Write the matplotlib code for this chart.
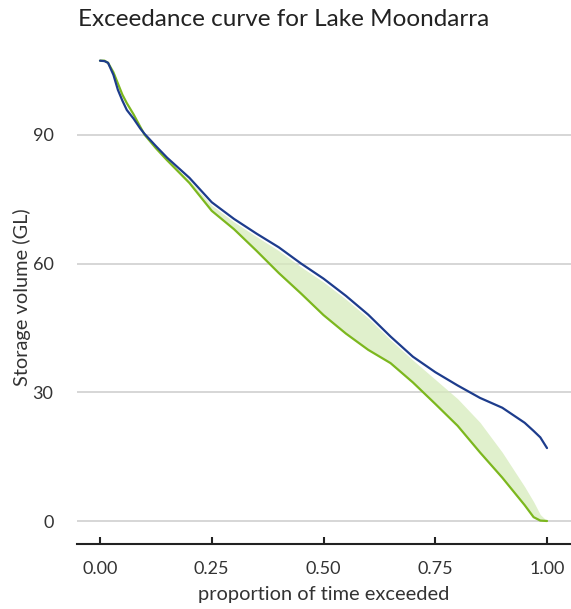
import matplotlib
matplotlib.use("Agg")
import matplotlib.pyplot as plt

# Proportion of time exceeded
proportion = [0.0, 0.01, 0.018, 0.03, 0.04, 0.05, 0.06, 0.075, 0.09, 0.10, 0.125,
              0.15, 0.20, 0.25, 0.30, 0.35, 0.40, 0.45, 0.50, 0.55, 0.60, 0.65,
              0.70, 0.75, 0.80, 0.85, 0.90, 0.95, 0.97, 0.985, 1.0]

# Historical storage volume (GL)
storage_historical = [107.3, 107.2, 106.8, 104.0, 100.5, 98.0, 95.8, 93.8, 91.5, 90.2, 87.4,
                      84.7, 80.0, 74.3, 70.4, 67.0, 63.8, 60.0, 56.5, 52.5, 48.1, 43.0,
                      38.3, 34.7, 31.6, 28.7, 26.4, 22.9, 21.0, 19.5, 17.0]

# Projected storage volume (GL)
storage_projected = [107.3, 107.3, 106.8, 104.6, 102.0, 99.4, 97.4, 94.8, 91.9, 90.0, 86.9,
                     84.1, 78.8, 72.3, 68.0, 63.0, 57.8, 53.0, 48.0, 43.7, 39.9, 36.8,
                     32.3, 27.3, 22.2, 16.0, 10.1, 3.7, 0.9, 0.1, 0.0]

# Upper edge of the projected range (GL)
storage_range_upper = [107.3, 107.3, 106.8, 104.6, 102.0, 99.4, 97.4, 94.8, 91.9, 90.0, 87.1,
                       84.4, 79.4, 73.6, 69.7, 66.3, 63.0, 59.2, 55.7, 51.7, 47.3, 42.2,
                       37.5, 33.0, 28.5, 23.0, 16.0, 8.0, 4.5, 1.5, 0.0]

y_ticks = [0, 30, 60, 90]
x_ticks = [0.0, 0.25, 0.50, 0.75, 1.0]
x_tick_labels = ["0.00", "0.25", "0.50", "0.75", "1.00"]

plt.rcParams["font.family"] = ["Lato", "DejaVu Sans"]

W, H = 571, 609
fig = plt.figure(figsize=(W / 100, H / 100), dpi=100)

# axes box in pixel terms
left_px, right_px, top_px, bottom_px = 77, 571, 50, 544
ax = fig.add_axes([left_px / W, 1 - bottom_px / H,
                   (right_px - left_px) / W, (bottom_px - top_px) / H])

# data-to-pixel mapping: x=0 -> 100px, x=1 -> 547px ; y=0 -> 521px, 4.29px/GL
x0_px, x_scale = 100, 447
y0_px, y_scale = 521, 4.29
ax.set_xlim((left_px - x0_px) / x_scale, (right_px - x0_px) / x_scale)
ax.set_ylim((y0_px - bottom_px) / y_scale, (y0_px - top_px) / y_scale)

green = "#7cb71e"
blue = "#1d3c8c"

ax.fill_between(proportion, storage_projected, storage_range_upper,
                color="#d6ebbb", alpha=0.75, linewidth=0, zorder=2)
ax.plot(proportion, storage_projected, color=green, lw=1.6, zorder=3,
        solid_capstyle="round", solid_joinstyle="round")
ax.plot(proportion, storage_historical, color=blue, lw=1.6, zorder=4,
        solid_capstyle="round", solid_joinstyle="round")

for v in y_ticks:
    ax.axhline(v, color="#d3d3d3", lw=1.3, zorder=1)

for s in ["top", "right", "left"]:
    ax.spines[s].set_visible(False)
ax.spines["bottom"].set_linewidth(1.5)
ax.spines["bottom"].set_color("#222222")

ax.set_yticks(y_ticks)
ax.set_xticks(x_ticks)
ax.set_xticklabels(x_tick_labels)
ax.tick_params(axis="y", length=0, pad=17, labelsize=13, labelcolor="#333333")
ax.tick_params(axis="x", direction="in", length=5, width=1.5, color="#222222",
               pad=12, labelsize=13, labelcolor="#333333")

ax.set_xlabel("proportion of time exceeded", fontsize=14.4, color="#333333",
              labelpad=7)
ax.set_ylabel("Storage volume (GL)", fontsize=14.4, color="#333333", labelpad=1)

fig.text(78 / W, 1 - 26 / H, "Exceedance curve for Lake Moondarra",
         fontsize=17.5, color="#222222", ha="left", va="baseline")

fig.savefig("out.png", dpi=100, facecolor="white")
